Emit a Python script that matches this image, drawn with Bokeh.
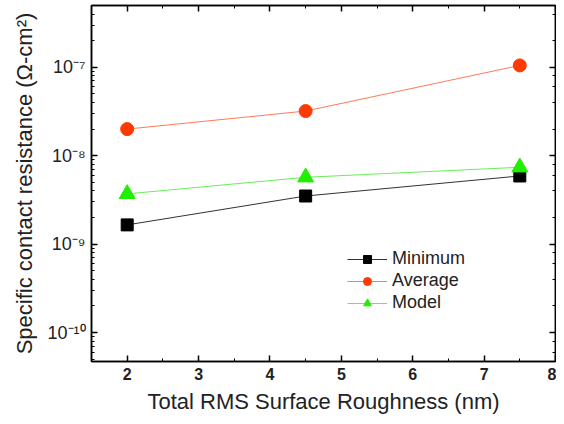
from bokeh.plotting import figure
from bokeh.models import LinearAxis, LogAxis, Range1d, FixedTicker, CustomJSTickFormatter, Legend
from bokeh.embed import file_html
from bokeh.resources import INLINE

roughness = [2, 4.5, 7.5]
minimum = [1.65e-9, 3.5e-9, 5.9e-9]
average = [2.0e-8, 3.2e-8, 1.05e-7]
model = [3.7e-9, 5.7e-9, 7.4e-9]
x_ticks = [2, 3, 4, 5, 6, 7, 8]
x_minor = [2.5, 3.5, 4.5, 5.5, 6.5, 7.5]

FONT = "Liberation Sans"

p = figure(width=556, height=416, output_backend="svg", toolbar_location=None,
           y_axis_type="log", x_range=Range1d(1.5, 8), y_range=Range1d(4.7e-11, 5.0e-7),
           min_border_left=91, min_border_right=1, min_border_top=5, min_border_bottom=50)
p.grid.visible = False
p.outline_line_color = "black"
p.outline_line_width = 1.5
p.background_fill_color = "white"
p.border_fill_color = "white"

sup = CustomJSTickFormatter(code="""
const s = {'-':'\\u207B','0':'\\u2070','1':'\\u00B9','2':'\\u00B2','3':'\\u00B3','4':'\\u2074','5':'\\u2075','6':'\\u2076','7':'\\u2077','8':'\\u2078','9':'\\u2079'};
const e = Math.round(Math.log10(tick)).toString();
let out = '10';
for (const c of e) out += s[c];
return out;
""")

xa = p.xaxis[0]
xa.ticker = FixedTicker(ticks=x_ticks, minor_ticks=x_minor)
xa.axis_label = "Total RMS Surface Roughness (nm)"
ya = p.yaxis[0]
ya.ticker.desired_num_ticks = 5
ya.formatter = sup
ya.axis_label = "Specific contact resistance (\u03A9-cm\u00B2)"

for ax in [xa, ya]:
    ax.major_tick_in = 6
    ax.major_tick_out = 0
    ax.minor_tick_in = 3
    ax.minor_tick_out = 0
    ax.axis_line_width = 1.5
    ax.major_tick_line_width = 1.5
    ax.major_label_text_font = FONT
    ax.major_label_text_font_size = "16px"
    ax.major_label_text_font_style = "bold"
    ax.major_label_text_color = "#222222"
    ax.axis_label_text_font = FONT
    ax.axis_label_text_font_style = "normal"
    ax.axis_label_text_color = "#222222"
xa.axis_label_text_font_size = "22px"
ya.axis_label_text_font_size = "22px"
ya.major_label_text_font_style = "normal"
ya.major_label_text_font_size = "18px"
ya.major_label_standoff = 6
xa.major_label_standoff = 6
xa.axis_label_standoff = 6
ya.axis_label_standoff = 7

top = LinearAxis(ticker=FixedTicker(ticks=x_ticks, minor_ticks=x_minor))
right = LogAxis()
for ax in [top, right]:
    ax.major_tick_in = 6
    ax.major_tick_out = 0
    ax.minor_tick_in = 3
    ax.minor_tick_out = 0
    ax.axis_line_width = 1.5
    ax.major_tick_line_width = 1.5
    ax.major_label_standoff = 0
    ax.major_label_text_font_size = "1px"
    ax.major_label_text_alpha = 0
p.add_layout(top, "above")
p.add_layout(right, "right")

BLACK = "#000000"
ORANGE = "#ff3a00"
GREEN = "#22ee00"

r1 = p.line(roughness, minimum, line_color="#333333", line_width=1)
s1 = p.scatter(roughness, minimum, marker="square", size=12, fill_color=BLACK, line_color=BLACK)
r2 = p.line(roughness, average, line_color="#ff7a55", line_width=1)
s2 = p.scatter(roughness, average, marker="circle", size=13, fill_color=ORANGE, line_color=ORANGE)
r3 = p.line(roughness, model, line_color="#66ee55", line_width=1)
s3 = p.scatter(roughness, model, marker="triangle", size=16, fill_color=GREEN, line_color=GREEN)

legend = Legend(items=[("Minimum", [r1, s1]), ("Average", [r2, s2]), ("Model", [r3, s3])],
                location=(256, 48), border_line_color=None, background_fill_alpha=0,
                glyph_width=40, glyph_height=20, spacing=1, padding=4, label_standoff=5)
legend.label_text_font = FONT
legend.label_text_font_size = "18px"
legend.label_text_color = "#222222"
legend.label_height = 20
p.add_layout(legend, "center")

open("out.html", "w").write(file_html(p, INLINE))
